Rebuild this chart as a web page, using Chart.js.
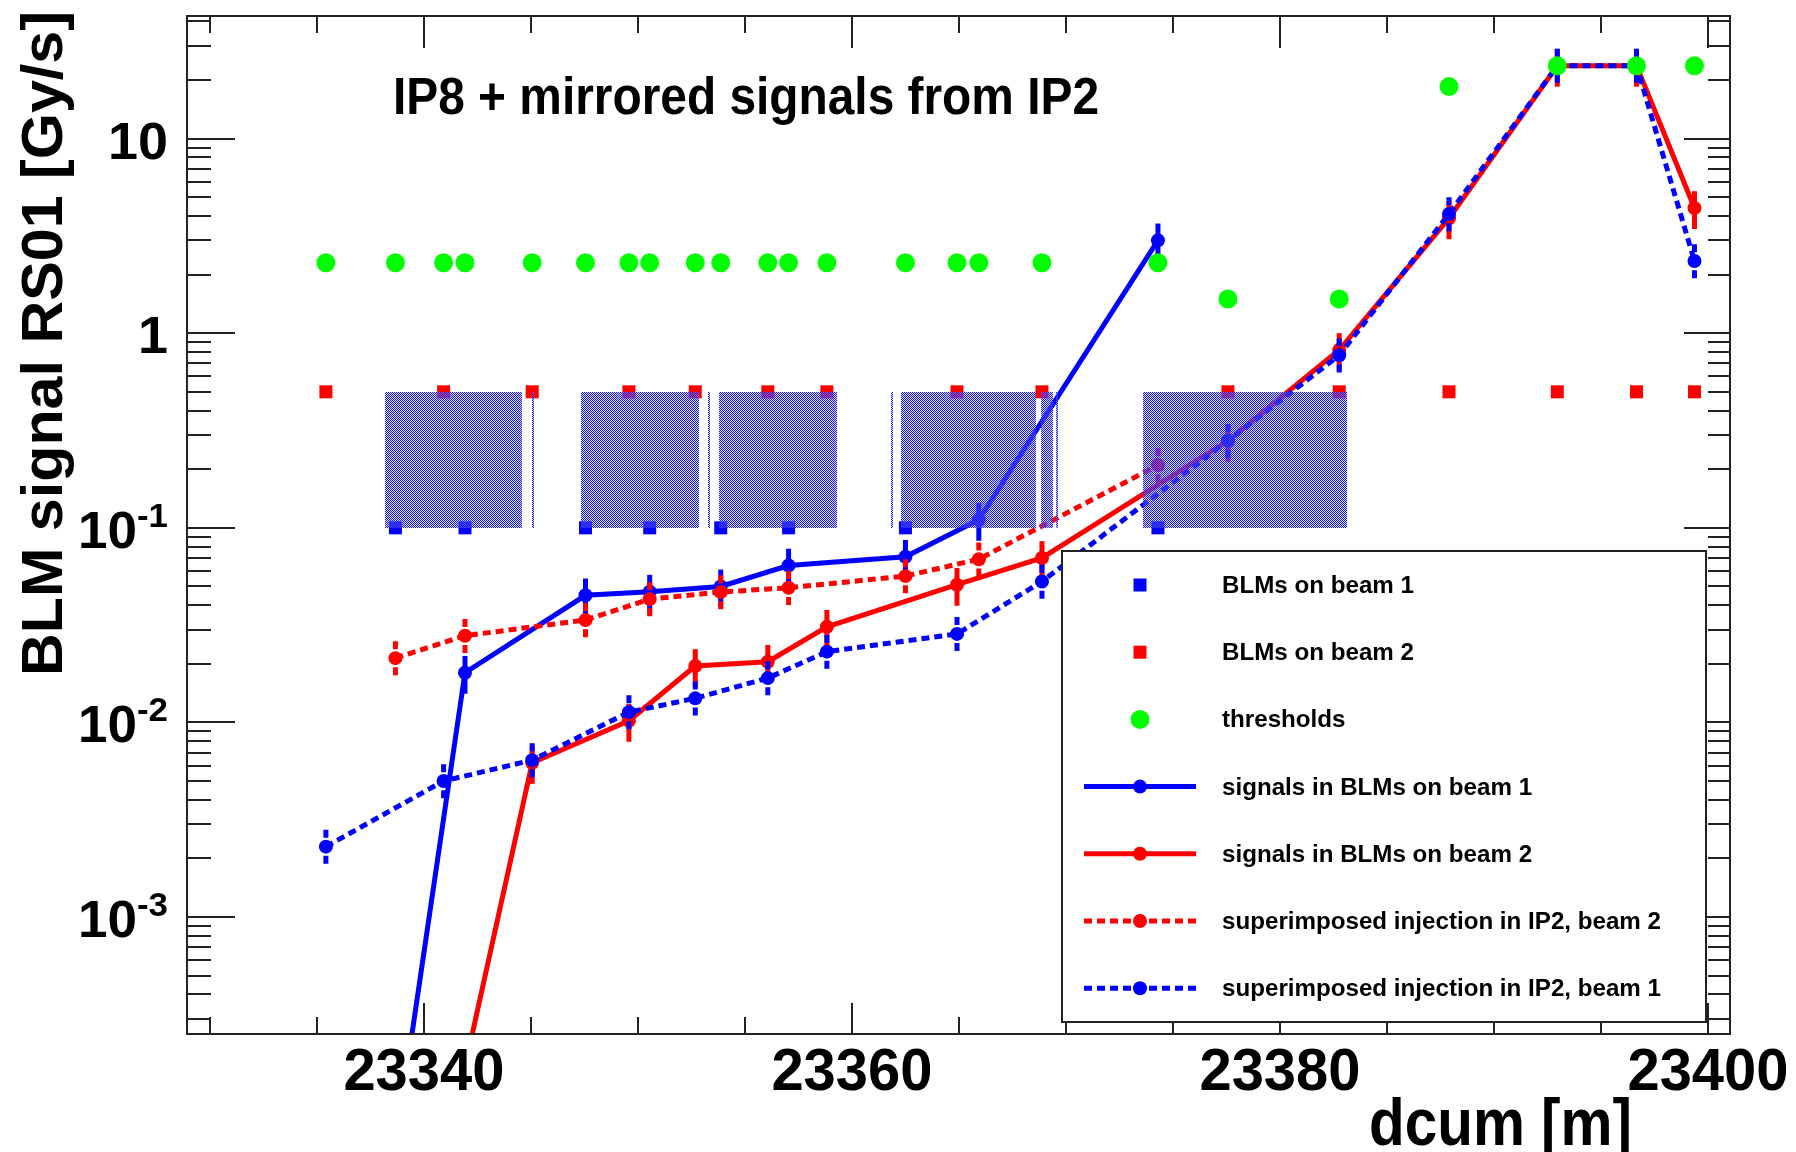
<!DOCTYPE html>
<html lang="en">
  <head>
    <meta charset="UTF-8" />
    <title>BLM signal RS01</title>
    <style>
      html, body { margin: 0; padding: 0; background: #fff; }
      #wrap { width: 1796px; height: 1152px; }
    </style>
  </head>
  <body>
    <div id="wrap"><canvas id="myChart" width="1796" height="1152"></canvas></div>
  </body>
  <script src="https://cdn.jsdelivr.net/npm/chart.js"></script>
  <script>
    // dcum [m] of the BLMs
    var beam1Pos = [23338.67, 23341.92, 23347.55, 23350.55, 23353.87, 23357.04, 23362.50, 23374.30];
    var beam1Val = [0.1, 0.1, 0.1, 0.1, 0.1, 0.1, 0.1, 0.1];
    var beam2Pos = [23335.42, 23340.92, 23345.06, 23349.58, 23352.68, 23356.07, 23358.83, 23364.91,
                    23368.88, 23377.57, 23382.77, 23387.90, 23392.96, 23396.66, 23399.37];
    var beam2Val = [0.5, 0.5, 0.5, 0.5, 0.5, 0.5, 0.5, 0.5, 0.5, 0.5, 0.5, 0.5, 0.5, 0.5, 0.5];

    var threshPos = [23335.42, 23338.67, 23340.92, 23341.92, 23345.06, 23347.55, 23349.58, 23350.55,
                     23352.68, 23353.87, 23356.07, 23357.04, 23358.83, 23362.50, 23364.91, 23365.93,
                     23368.88, 23374.30, 23377.57, 23382.77, 23387.90, 23392.96, 23396.66, 23399.37];
    var threshVal = [2.3, 2.3, 2.3, 2.3, 2.3, 2.3, 2.3, 2.3, 2.3, 2.3, 2.3, 2.3,
                     2.3, 2.3, 2.3, 2.3, 2.3, 2.3, 1.5, 1.5, 18.5, 23.7, 23.7, 23.7];

    // signals in BLMs on beam 1 (solid blue)
    var sig1Pos = [23338.67, 23341.92, 23347.55, 23350.55, 23353.87, 23357.04, 23362.50, 23365.93, 23374.30];
    var sig1Val = [6.6e-5, 0.018, 0.045, 0.047, 0.050, 0.064, 0.071, 0.11, 3.0];
    // signals in BLMs on beam 2 (solid red)
    var sig2Pos = [23340.92, 23345.06, 23349.58, 23352.68, 23356.07, 23358.83, 23364.91,
                   23368.88, 23377.57, 23382.77, 23387.90, 23392.96, 23396.66, 23399.37];
    var sig2Val = [5.4e-5, 0.0062, 0.0102, 0.0195, 0.0205, 0.031, 0.051,
                   0.070, 0.28, 0.82, 3.9, 23.7, 23.7, 4.4];
    // superimposed injection in IP2, beam 2 (dotted red)
    var inj2Pos = [23338.67, 23341.92, 23347.55, 23350.55, 23353.87, 23357.04, 23362.50, 23365.93, 23374.30];
    var inj2Val = [0.0214, 0.0279, 0.0336, 0.043, 0.0468, 0.0492, 0.0565, 0.069, 0.21];
    // superimposed injection in IP2, beam 1 (dotted blue)
    var inj1Pos = [23335.42, 23340.92, 23345.06, 23349.58, 23352.68, 23356.07, 23358.83, 23364.91,
                   23368.88, 23377.57, 23382.77, 23387.90, 23392.96, 23396.66, 23399.37];
    var inj1Val = [0.0023, 0.0050, 0.0064, 0.0113, 0.0133, 0.0169, 0.0231, 0.0285,
                   0.053, 0.28, 0.77, 4.1, 23.7, 23.7, 2.35];
    var relErr = 0.22;

    // hatched magnet boxes
    var boxStart = [23338.18, 23345.04, 23347.32, 23353.27, 23353.79, 23361.82, 23362.28, 23368.82, 23369.53, 23373.61];
    var boxEnd   = [23344.58, 23345.12, 23352.85, 23353.35, 23359.30, 23361.90, 23368.58, 23369.39, 23369.61, 23383.12];
    var boxLow = 0.1, boxHigh = 0.5;

    var xTicks = [23340, 23360, 23380, 23400];
    var yTicks = [1e-3, 1e-2, 1e-1, 1, 10];
    var yTickBase = ["10", "10", "10", "1", "10"];
    var yTickExp = ["-3", "-2", "-1", "", ""];

    var FONT = '"Liberation Sans", Arial, sans-serif';

    function xy(xs, ys) {
      return xs.map(function (x, i) { return { x: x, y: ys[i] }; });
    }

    // text squeezed horizontally to a given width, like the ROOT output
    function fitText(ctx, txt, x, y, w, size, align) {
      ctx.font = "bold " + size + "px " + FONT;
      var m = ctx.measureText(txt).width;
      var sx = w ? w / m : 1;
      ctx.save();
      ctx.translate(x, y);
      ctx.scale(sx, 1);
      ctx.textAlign = "left";
      ctx.textBaseline = "alphabetic";
      var off = align === "right" ? -m : align === "center" ? -m / 2 : 0;
      ctx.fillText(txt, off, 0);
      ctx.restore();
      return m * sx;
    }

    function stipple(ctx) {
      var pc = document.createElement("canvas");
      pc.width = 2; pc.height = 2;
      var p = pc.getContext("2d");
      p.fillStyle = "rgba(150,150,255,0.4)";
      p.fillRect(0, 0, 2, 2);
      p.clearRect(0, 0, 1, 1);
      p.clearRect(1, 1, 1, 1);
      p.fillStyle = "rgb(30,30,240)";
      p.fillRect(0, 0, 1, 1);
      p.fillRect(1, 1, 1, 1);
      return ctx.createPattern(pc, "repeat");
    }

    function drawBoxes(chart) {
      var ctx = chart.ctx, xs = chart.scales.x, ys = chart.scales.y;
      ctx.save();
      ctx.fillStyle = stipple(ctx);
      var top = ys.getPixelForValue(boxHigh), bot = ys.getPixelForValue(boxLow);
      for (var i = 0; i < boxStart.length; i++) {
        var l = xs.getPixelForValue(boxStart[i]), r = xs.getPixelForValue(boxEnd[i]);
        ctx.fillRect(Math.round(l), Math.round(top), Math.max(2, Math.round(r - l)), Math.round(bot - top));
      }
      ctx.restore();
    }

    function drawErrors(chart, meta, ds) {
      var ctx = chart.ctx, a = chart.chartArea, xs = chart.scales.x, ys = chart.scales.y;
      ctx.save();
      ctx.beginPath();
      ctx.rect(a.left, a.top, a.right - a.left, a.bottom - a.top);
      ctx.clip();
      ctx.strokeStyle = ds.borderColor;
      ctx.lineWidth = 5;
      ctx.setLineDash(ds.borderDash || []);
      ds.data.forEach(function (p) {
        var px = xs.getPixelForValue(p.x);
        ctx.beginPath();
        ctx.moveTo(px, ys.getPixelForValue(p.y * (1 + relErr)));
        ctx.lineTo(px, ys.getPixelForValue(p.y * (1 - relErr)));
        ctx.stroke();
      });
      ctx.restore();
    }

    function drawAxes(chart) {
      var ctx = chart.ctx, a = chart.chartArea, xs = chart.scales.x, ys = chart.scales.y;
      ctx.save();
      ctx.strokeStyle = "#222";
      ctx.lineWidth = 2;
      function seg(x1, y1, x2, y2) {
        ctx.beginPath(); ctx.moveTo(x1, y1); ctx.lineTo(x2, y2); ctx.stroke();
      }
      for (var v = 23330; v <= 23400; v += 5) {
        var px = Math.round(xs.getPixelForValue(v));
        var major = v % 20 === 0;
        seg(px, a.bottom, px, a.bottom - (major ? 31 : 17));
        seg(px, a.top, px, a.top + (major ? 32 : 17));
      }
      for (var e = -4; e <= 1; e++) {
        for (var k = 1; k <= 9; k++) {
          var val = k * Math.pow(10, e);
          if (val < ys.min || val > ys.max) continue;
          var py = Math.round(ys.getPixelForValue(val));
          seg(a.left, py, a.left + (k === 1 ? 48 : 24), py);
          seg(a.right, py, a.right - (k === 1 ? 46 : 22), py);
        }
      }
      ctx.restore();
    }

    function drawFrame(chart) {
      var ctx = chart.ctx, a = chart.chartArea;
      ctx.save();
      ctx.strokeStyle = "#222";
      ctx.lineWidth = 2;
      ctx.strokeRect(a.left, a.top, a.right - a.left, a.bottom - a.top);
      ctx.restore();
    }

    function drawLabels(chart) {
      var ctx = chart.ctx, xs = chart.scales.x, ys = chart.scales.y;
      ctx.save();
      ctx.fillStyle = "#000";
      xTicks.forEach(function (v) {
        fitText(ctx, String(v), xs.getPixelForValue(v), 1090, 161, 60, "center");
      });
      yTicks.forEach(function (v, i) {
        var py = ys.getPixelForValue(v);
        var right = 168;
        if (yTickExp[i]) {
          var w = fitText(ctx, yTickExp[i], right, py - 1, 31, 34, "right");
          fitText(ctx, yTickBase[i], right - w, py + 20, 59, 52, "right");
        } else {
          fitText(ctx, yTickBase[i], right, py + 20, yTickBase[i].length * 30, 52, "right");
        }
      });
      // titles
      fitText(ctx, "IP8 + mirrored signals from IP2", 393, 114, 706, 51, "left");
      fitText(ctx, "dcum [m]", 1369, 1145, 263, 66, "left");
      ctx.save();
      ctx.translate(62, 676);
      ctx.rotate(-Math.PI / 2);
      fitText(ctx, "BLM signal RS01 [Gy/s]", 0, 0, 665, 58, "left");
      ctx.restore();
      ctx.restore();
    }

    var legendOrder = [6, 5, 0, 4, 3, 2, 1];
    function drawLegend(chart) {
      var ctx = chart.ctx;
      var L = 1062, T = 551, R = 1706, B = 1022;
      ctx.save();
      ctx.fillStyle = "#fff";
      ctx.fillRect(L, T, R - L, B - T);
      ctx.strokeStyle = "#222";
      ctx.lineWidth = 2;
      ctx.strokeRect(L, T, R - L, B - T);
      ctx.font = "bold 23px " + FONT;
      var sx = 439 / ctx.measureText("superimposed injection in IP2, beam 2").width;
      legendOrder.forEach(function (idx, row) {
        var ds = chart.data.datasets[idx];
        var cy = 585 + row * 67.2;
        var cx = 1140;
        if (ds.showLine) {
          ctx.strokeStyle = ds.borderColor;
          ctx.lineWidth = 5;
          ctx.setLineDash(ds.borderDash || []);
          ctx.beginPath(); ctx.moveTo(1084, cy); ctx.lineTo(1196, cy); ctx.stroke();
          ctx.setLineDash([]);
          ctx.fillStyle = ds.pointBackgroundColor;
          ctx.beginPath(); ctx.arc(cx, cy, 7, 0, Math.PI * 2); ctx.fill();
        } else if (ds.pointStyle === "rect") {
          ctx.fillStyle = ds.backgroundColor;
          ctx.fillRect(cx - 6.5, cy - 6.5, 13, 13);
        } else {
          ctx.fillStyle = ds.backgroundColor;
          ctx.beginPath(); ctx.arc(cx, cy, 9.5, 0, Math.PI * 2); ctx.fill();
        }
        ctx.fillStyle = "#000";
        ctx.font = "bold 23px " + FONT;
        var m = ctx.measureText(ds.label).width;
        fitText(ctx, ds.label, 1222, cy + 8, m * sx, 23, "left");
      });
      ctx.restore();
    }

    var rootStyle = {
      id: "rootStyle",
      afterDatasetDraw: function (chart, args) {
        var ds = chart.data.datasets[args.index];
        if (ds.errors) drawErrors(chart, args.meta, ds);
        if (args.index === 1) drawBoxes(chart);
      },
      afterDraw: function (chart) {
        drawAxes(chart);
        drawLegend(chart);
        drawFrame(chart);
        drawLabels(chart);
      }
    };

    function lineSet(label, xs, ys, color, dash) {
      return {
        label: label,
        data: xy(xs, ys),
        showLine: true,
        borderColor: color,
        borderWidth: 5,
        borderDash: dash,
        pointRadius: 7,
        pointBackgroundColor: color,
        pointBorderWidth: 0,
        backgroundColor: color,
        tension: 0,
        fill: false,
        errors: true
      };
    }

    var data = {
      datasets: [
        {
          label: "thresholds",
          data: xy(threshPos, threshVal),
          showLine: false,
          pointStyle: "circle",
          pointRadius: 9.5,
          backgroundColor: "#00ff00",
          borderWidth: 0
        },
        lineSet("superimposed injection in IP2, beam 1", inj1Pos, inj1Val, "#0000ff", [8, 5]),
        lineSet("superimposed injection in IP2, beam 2", inj2Pos, inj2Val, "#ff0000", [8, 5]),
        lineSet("signals in BLMs on beam 2", sig2Pos, sig2Val, "#ff0000", []),
        lineSet("signals in BLMs on beam 1", sig1Pos, sig1Val, "#0000ff", []),
        {
          label: "BLMs on beam 2",
          data: xy(beam2Pos, beam2Val),
          showLine: false,
          pointStyle: "rect",
          pointRadius: 9.2,
          backgroundColor: "#ff0000",
          borderWidth: 0
        },
        {
          label: "BLMs on beam 1",
          data: xy(beam1Pos, beam1Val),
          showLine: false,
          pointStyle: "rect",
          pointRadius: 9.2,
          backgroundColor: "#0000ff",
          borderWidth: 0
        }
      ]
    };

    const config = {
      type: "scatter",
      data: data,
      options: {
        responsive: false,
        animation: false,
        events: [],
        devicePixelRatio: 1,
        layout: { padding: { left: 187, top: 16, right: 66, bottom: 118 } },
        plugins: { legend: { display: false }, tooltip: { enabled: false } },
        scales: {
          x: { type: "linear", min: 23328.93, max: 23401.03, display: false },
          y: { type: "logarithmic", min: 2.506e-4, max: 42.66, display: false }
        }
      },
      plugins: [rootStyle]
    };

    var myChart = new Chart(document.getElementById("myChart"), config);
  </script>
</html>
